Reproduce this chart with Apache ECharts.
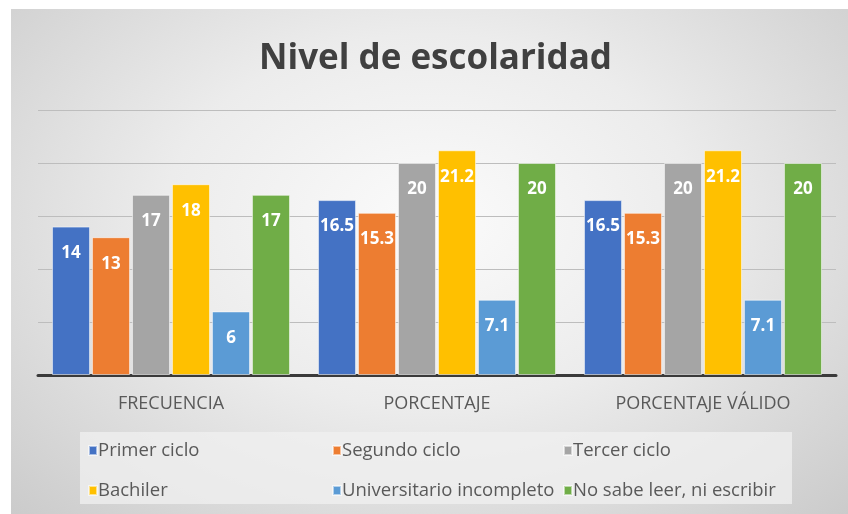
<!DOCTYPE html>
<html>
<head>
<meta charset="utf-8">
<script src="https://cdn.jsdelivr.net/npm/echarts@6/dist/echarts.min.js"></script>
<style>
  html, body { margin: 0; padding: 0; background: #fff; }
  .chart_wrap { position: relative; width: 848px; height: 514px; }
  .chart_bg {
    position: absolute; left: 11px; top: 9px; width: 837px; height: 505px;
    background: radial-gradient(ellipse at 50% 42%, #fbfbfb 0%, #ececec 45%, #cbcbcb 100%);
  }
  #chart_nivel { position: absolute; left: 0; top: 0; width: 848px; height: 514px; }
</style>
</head>
<body>
<div class="chart_wrap">
  <div class="chart_bg"></div>
  <div id="chart_nivel"></div>
</div>
<script>
  // categorias del eje x
  const categorias = ['FRECUENCIA', 'PORCENTAJE', 'PORCENTAJE VÁLIDO'];

  // una lista por serie
  const primerCiclo = [14, 16.5, 16.5];
  const segundoCiclo = [13, 15.3, 15.3];
  const tercerCiclo = [17, 20, 20];
  const bachiler = [18, 21.2, 21.2];
  const universitario = [6, 7.1, 7.1];
  const noSabe = [17, 20, 20];

  const nombres = ['Primer ciclo', 'Segundo ciclo', 'Tercer ciclo', 'Bachiler', 'Universitario incompleto', 'No sabe leer, ni escribir'];
  const valores = [primerCiclo, segundoCiclo, tercerCiclo, bachiler, universitario, noSabe];
  const colores = ['#4472c4', '#ed7d31', '#a5a5a5', '#ffc000', '#5b9bd5', '#70ad47'];

  const font = 'Open Sans';

  // posiciones de la leyenda (3 columnas, 2 filas)
  const legendPos = [[83, 436], [327, 436], [558, 436], [83, 476], [327, 476], [558, 476]];

  let myChart = echarts.init(document.getElementById('chart_nivel'));
  myChart.setOption({
    title: {
      text: 'Nivel de escolaridad',
      left: 254,
      top: 37,
      textStyle: {
        fontFamily: font,
        fontSize: 35,
        fontWeight: 'bold',
        color: '#404040'
      }
    },
    graphic: [{
      type: 'rect',
      silent: true,
      z: -1,
      shape: { x: 80, y: 432, width: 712, height: 72 },
      style: { fill: 'rgba(240,240,240,0.75)' }
    }],
    legend: nombres.map((n, i) => ({
      data: [n],
      left: legendPos[i][0],
      top: legendPos[i][1],
      itemWidth: 8,
      itemHeight: 9,
      icon: 'rect',
      selectedMode: false,
      textStyle: {
        fontFamily: font,
        fontSize: 18.5,
        color: '#595959',
        padding: [0, 0, 0, -4]
      }
    })),
    grid: {
      left: 38,
      right: 12,
      top: 110,
      bottom: 139
    },
    xAxis: {
      type: 'category',
      data: categorias,
      axisTick: { show: false },
      axisLine: { lineStyle: { color: '#3a3a3a', width: 3 } },
      axisLabel: {
        fontFamily: font,
        fontSize: 18,
        color: '#595959',
        margin: 20
      }
    },
    yAxis: {
      type: 'value',
      min: 0,
      max: 25,
      interval: 5,
      axisLabel: { show: false },
      axisLine: { show: false },
      axisTick: { show: false },
      splitLine: { lineStyle: { color: '#bdbdbd', width: 1 } }
    },
    series: nombres.map((n, i) => ({
      name: n,
      type: 'bar',
      data: valores[i],
      barGap: '5%',
      barCategoryGap: '10.5%',
      itemStyle: {
        color: colores[i],
        borderColor: 'rgba(255,255,255,0.55)',
        borderWidth: 1
      },
      label: {
        show: true,
        position: 'insideTop',
        distance: 18,
        fontFamily: font,
        fontSize: 17,
        fontWeight: 'bold',
        color: '#ffffff'
      }
    }))
  });
</script>
</body>
</html>
